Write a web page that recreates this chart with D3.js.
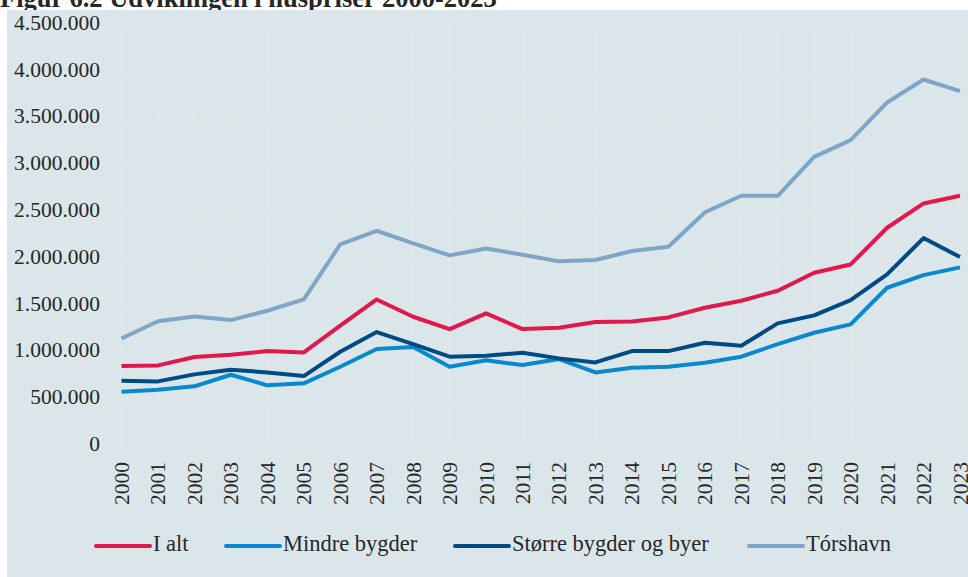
<!DOCTYPE html>
<meta charset="utf-8">
<style>
body { margin: 0; background: white; }
text { font-family: "Liberation Serif", "DejaVu Serif", serif; fill: #262626; }
</style>
<body>
<script src="https://d3js.org/d3.v7.min.js"></script>
<script>

const width = 968
const height = 577

// Years and series values (DKK)
const years = d3.range(2000, 2024)
const iAlt = [876000, 883000, 972000, 997000, 1036000, 1022000, 1307000, 1588000, 1403000, 1271000, 1439000, 1271000,
  1285000, 1346000, 1353000, 1396000, 1499000, 1574000, 1681000, 1873000, 1962000, 2354000, 2614000, 2696000]
const mindre = [602000, 623000, 659000, 783000, 670000, 691000, 869000, 1058000, 1079000, 869000, 937000, 887000,
  951000, 808000, 858000, 869000, 911000, 976000, 1111000, 1232000, 1321000, 1713000, 1848000, 1931000]
const storre = [719000, 712000, 787000, 837000, 808000, 769000, 1029000, 1239000, 1111000, 976000, 986000, 1018000,
  958000, 915000, 1036000, 1036000, 1125000, 1093000, 1332000, 1418000, 1581000, 1856000, 2244000, 2041000]
const torshavn = [1170000, 1355000, 1405000, 1367000, 1467000, 1588000, 2176000, 2322000, 2187000, 2059000, 2133000, 2066000,
  1995000, 2009000, 2105000, 2151000, 2518000, 2696000, 2696000, 3112000, 3291000, 3693000, 3939000, 3814000]
const yTicks = [0, 500000, 1000000, 1500000, 2000000, 2500000, 3000000, 3500000, 4000000, 4500000]

const series = [
  { name: 'I alt', values: iAlt, color: '#e2174b' },
  { name: 'Mindre bygder', values: mindre, color: '#0a88cf' },
  { name: 'Større bygder og byer', values: storre, color: '#004a86' },
  { name: 'Tórshavn', values: torshavn, color: '#7fa6c7' }
]

const svg = d3.select('body').append('svg')
  .attr('width', width)
  .attr('height', height)

// Title (partly hidden behind the panel, as in the source)
svg.append('text')
  .attr('x', 0)
  .attr('y', 7)
  .attr('font-size', 26.5)
  .attr('font-weight', 'bold')
  .text('Figur 6.2 Udviklingen i huspriser 2000-2023')

// Panel background
svg.append('rect')
  .attr('x', 7)
  .attr('y', 10)
  .attr('width', width - 7)
  .attr('height', height - 10)
  .attr('fill', '#dbe6eb')

const x = d3.scaleLinear().domain([2000, 2023]).range([121.5, 960])
const y = d3.scaleLinear().domain([0, 4500000]).range([448, 27])

const fmt = v => d3.format(',')(v).replace(/,/g, '.')

// Grid
const grid = svg.append('g').attr('stroke', '#e3e6e6').attr('stroke-width', 1.5)
grid.selectAll('.h').data(yTicks).join('line')
  .attr('x1', x(2000)).attr('x2', x(2023))
  .attr('y1', d => y(d)).attr('y2', d => y(d))
grid.selectAll('.v').data(years).join('line')
  .attr('x1', d => x(d)).attr('x2', d => x(d))
  .attr('y1', y(4500000)).attr('y2', y(0))

// Y axis labels
svg.append('g').selectAll('text').data(yTicks).join('text')
  .attr('x', 100)
  .attr('y', d => y(d) - 2)
  .attr('text-anchor', 'end')
  .attr('dominant-baseline', 'middle')
  .attr('font-size', 21.5)
  .text(fmt)

// X axis labels
svg.append('g').selectAll('text').data(years).join('text')
  .attr('transform', d => `translate(${x(d) + 7.5}, 462) rotate(-90)`)
  .attr('text-anchor', 'end')
  .attr('font-size', 21.5)
  .text(d => d)

// Lines
const line = d3.line()
  .x((d, i) => x(years[i]))
  .y(d => y(d))

svg.append('g').selectAll('path').data(series).join('path')
  .attr('d', d => line(d.values))
  .attr('fill', 'none')
  .attr('stroke', d => d.color)
  .attr('stroke-width', 4)
  .attr('stroke-linejoin', 'round')

// Legend
const legendX = [96, 226, 455, 749]
const legend = svg.append('g').selectAll('g').data(series).join('g')
  .attr('transform', (d, i) => `translate(${legendX[i]}, 546)`)
legend.append('line')
  .attr('x1', 0).attr('x2', 54)
  .attr('stroke', d => d.color)
  .attr('stroke-width', 4)
  .attr('stroke-linecap', 'round')
legend.append('text')
  .attr('x', 57)
  .attr('dominant-baseline', 'middle')
  .attr('font-size', 22.5)
  .text(d => d.name)

</script>
</body>
</html>
